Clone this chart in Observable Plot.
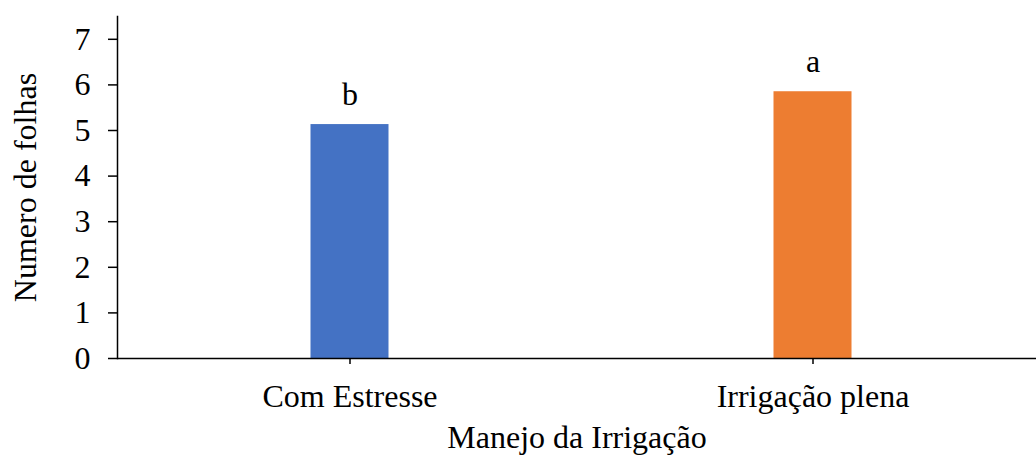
<!DOCTYPE html>
<html>
<head>
<meta charset="utf-8">
<script src="https://cdn.jsdelivr.net/npm/d3@7"></script>
<script src="https://cdn.jsdelivr.net/npm/@observablehq/plot@0.6"></script>
<style>
  html, body { margin: 0; padding: 0; background: #fff; }
</style>
</head>
<body>
<div id="chart"></div>
<script>
const categories = ["Com Estresse", "Irrigação plena"];
const values = [5.13, 5.85];
const letters = ["b", "a"];
const colors = ["#4472C4", "#ED7D31"];
const yTicks = [0, 1, 2, 3, 4, 5, 6, 7];
const xTitle = "Manejo da Irrigação";
const yTitle = "Numero de folhas";

const data = categories.map((c, i) => ({cat: c, value: values[i], letter: letters[i], color: colors[i]}));

const chart = Plot.plot({
  width: 1036,
  height: 455,
  marginLeft: 117,
  marginRight: 0,
  marginTop: 16,
  marginBottom: 97,
  style: {fontFamily: "'Liberation Serif', 'Times New Roman', serif", fontSize: "32px", color: "#000", background: "#fff"},
  x: {domain: categories, range: [117.5, 1043.5], padding: 0, label: null},
  y: {domain: [0, 7.5], label: null},
  marks: [
    Plot.barY(data, {x: "cat", y: "value", fill: "color", insetLeft: 192.5, insetRight: 192.5}),
    Plot.text(data, {x: "cat", y: "value", text: "letter", lineAnchor: "middle", dy: -30, fill: "#000"}),
    Plot.axisY({ticks: yTicks, tickSize: 9, tickPadding: 18, tickFormat: d3.format("d"), strokeWidth: 1.5, label: null}),
    Plot.axisX({tickSize: 6, tickPadding: 20, strokeWidth: 1.5, label: null}),
    Plot.frame({anchor: "left", strokeWidth: 1.5}),
    Plot.ruleY([0], {strokeWidth: 1.5}),
    Plot.text([xTitle], {frameAnchor: "bottom", dy: 79, lineAnchor: "middle", textAnchor: "middle", fill: "#000"}),
    Plot.text([yTitle], {frameAnchor: "left", dx: -92, rotate: -90, lineAnchor: "middle", textAnchor: "middle", fill: "#000"})
  ]
});
document.getElementById("chart").appendChild(chart);
</script>
</body>
</html>
